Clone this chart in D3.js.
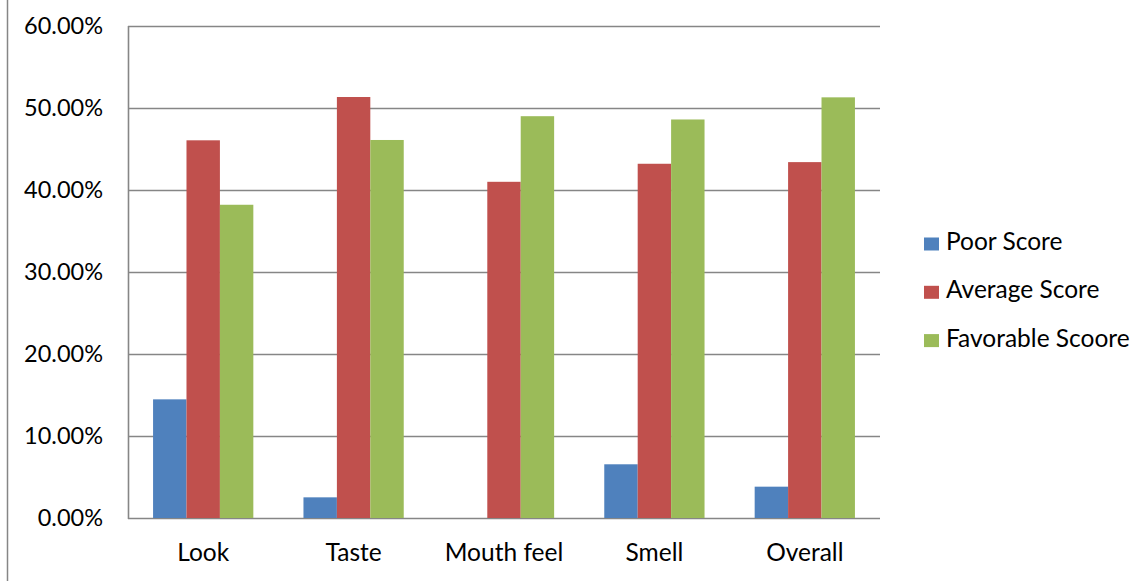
<!DOCTYPE html>
<html>
<head>
<meta charset="utf-8">
<script src="https://cdn.jsdelivr.net/npm/d3@7"></script>
<style>
  html, body { margin: 0; padding: 0; background: #fff; }
  svg text { font-family: Lato, "Open Sans", sans-serif; fill: #000; }
</style>
</head>
<body>
<svg id="chart" width="1143" height="581"></svg>
<script>
const categories = ["Look", "Taste", "Mouth feel", "Smell", "Overall"];
const seriesNames = ["Poor Score", "Average Score", "Favorable Scoore"];
const poorScore = [0.1447, 0.0252, 0.0, 0.0655, 0.0382];
const averageScore = [0.4606, 0.5134, 0.4100, 0.4320, 0.4340];
const favorableScore = [0.3820, 0.4610, 0.4900, 0.4860, 0.5130];
const yTicks = [0, 0.1, 0.2, 0.3, 0.4, 0.5, 0.6];
const colors = ["#4F81BD", "#C0504D", "#9BBB59"];

const series = [poorScore, averageScore, favorableScore];

const svg = d3.select("#chart");
const plot = { left: 128, right: 880, top: 26, bottom: 518 };

// outer chart border (left edge visible)
svg.append("line")
  .attr("x1", 7.5).attr("x2", 7.5).attr("y1", 0).attr("y2", 581)
  .attr("stroke", "#868686").attr("stroke-width", 1.5);

const x0 = d3.scaleBand().domain(categories).range([plot.left, plot.right]).paddingInner(0).paddingOuter(0);
const x1 = d3.scaleBand().domain(d3.range(3)).range([0, x0.bandwidth()]).paddingInner(0).paddingOuter(0.75);
const y = d3.scaleLinear().domain([0, 0.6]).range([plot.bottom, plot.top]);

// gridlines
svg.append("g").selectAll("line").data(yTicks).join("line")
  .attr("x1", plot.left).attr("x2", plot.right)
  .attr("y1", d => Math.round(y(d)) + 0.5).attr("y2", d => Math.round(y(d)) + 0.5)
  .attr("stroke", "#868686").attr("stroke-width", 1.6);

// bars
const groups = svg.append("g").selectAll("g").data(categories).join("g")
  .attr("transform", c => `translate(${x0(c)},0)`);
groups.selectAll("rect").data((c, i) => series.map((s, k) => ({ k, v: s[i] })))
  .join("rect")
  .attr("x", d => x1(d.k))
  .attr("width", x1.bandwidth())
  .attr("y", d => y(d.v))
  .attr("height", d => y(0) - y(d.v))
  .attr("fill", d => colors[d.k]);

// y axis line
svg.append("line")
  .attr("x1", plot.left + 0.5).attr("x2", plot.left + 0.5)
  .attr("y1", plot.top).attr("y2", plot.bottom + 1)
  .attr("stroke", "#868686").attr("stroke-width", 1.6);

// y tick labels
svg.append("g").selectAll("text").data(yTicks).join("text")
  .attr("x", 103).attr("y", d => y(d))
  .attr("dy", "0.36em")
  .attr("text-anchor", "end")
  .style("font-size", "23.5px")
  .text(d => d3.format(".2%")(d));

// x labels
svg.append("g").selectAll("text").data(categories).join("text")
  .attr("x", c => x0(c) + x0.bandwidth() / 2).attr("y", 561)
  .attr("text-anchor", "middle")
  .style("font-size", "24.5px")
  .text(c => c);

// legend
const lg = svg.append("g").selectAll("g").data(seriesNames).join("g")
  .attr("transform", (d, i) => `translate(924,${237.5 + i * 48.3})`);
lg.append("rect").attr("width", 15).attr("height", 13).attr("fill", (d, i) => colors[i]);
lg.append("text").attr("x", 22).attr("y", 12.5)
  .style("font-size", "24.5px")
  .text(d => d);
</script>
</body>
</html>
